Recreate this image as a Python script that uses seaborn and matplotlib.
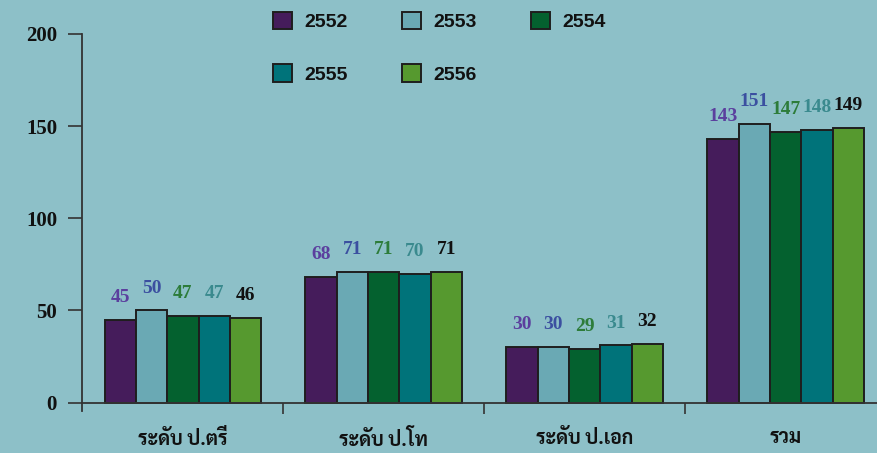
import pandas as pd
import matplotlib
matplotlib.use("Agg")
import matplotlib.pyplot as plt
import seaborn as sns

# data
levels = ["ระดับ ป.ตรี", "ระดับ ป.โท", "ระดับ ป.เอก", "รวม"]
years = ["2552", "2553", "2554", "2555", "2556"]
v2552 = [45, 68, 30, 143]
v2553 = [50, 71, 30, 151]
v2554 = [47, 71, 29, 147]
v2555 = [47, 70, 31, 148]
v2556 = [46, 71, 32, 149]

bar_colors = ["#451c5b", "#6aa9b4", "#04612f", "#00737a", "#56992f"]
label_colors = ["#5b3f9e", "#3b4fa0", "#2d7c3a", "#3a8a8e", "#111111"]
bg = "#8dc0c8"

rows = []
for yr, vals in zip(years, [v2552, v2553, v2554, v2555, v2556]):
    for lv, v in zip(levels, vals):
        rows.append({"level": lv, "year": yr, "count": v})
df = pd.DataFrame(rows)

sns.set_style("white")
plt.rcParams["font.family"] = ["Sarabun", "DejaVu Sans"]
plt.rcParams["font.weight"] = "bold"

fig = plt.figure(figsize=(8.78, 4.53), dpi=100, facecolor=bg)
ax = fig.add_axes([0.0934, 0.093, 0.9066, 0.832])
ax.set_facecolor(bg)

sns.barplot(data=df, x="level", y="count", hue="year", order=levels,
            hue_order=years, palette=bar_colors, saturation=1, width=0.78,
            edgecolor="#1e1e1e", linewidth=1.4, ax=ax)

for cont, c in zip(ax.containers, label_colors):
    ax.bar_label(cont, padding=10, color=c, fontsize=14, fontweight="bold",
                 family="Liberation Serif")

ax.set_xlim(-0.502, 3.46)
ax.set_ylim(-4.5, 200)
ax.set_yticks([0, 50, 100, 150, 200])
ax.set_yticklabels(["0", "50", "100", "150", "200"], family="Liberation Serif",
                   fontweight="bold", fontsize=15, color="#111111")

# group separators as major ticks, category names as minor ticks
ax.set_xticks([0.5, 1.5, 2.5])
ax.set_xticklabels([])
ax.set_xticks(range(len(levels)), minor=True)
ax.set_xticklabels(levels, minor=True)
ax.tick_params(axis="x", which="minor", bottom=False, length=0, pad=19,
               labelsize=14, labelcolor="#111111")
for t in ax.get_xticklabels(minor=True):
    t.set_family(["Sarabun", "DejaVu Sans"])
    t.set_fontweight("bold")
ax.tick_params(axis="x", which="major", bottom=True, length=8, width=1.2,
               color="#333333", direction="out")
ax.tick_params(axis="y", left=True, length=10, width=1.2, color="#333333",
               pad=8)
ax.set_xlabel("")
ax.set_ylabel("")

for s in ["top", "right"]:
    ax.spines[s].set_visible(False)
ax.spines["left"].set_bounds(-4.5, 200)
ax.spines["bottom"].set_position(("data", 0))
for s in ["left", "bottom"]:
    ax.spines[s].set_color("#333333")
    ax.spines[s].set_linewidth(1.3)

# legend: three per row, filled column-wise so reorder
handles, labels = ax.get_legend_handles_labels()
order = [0, 3, 1, 4, 2]
leg = ax.legend([handles[i] for i in order], [labels[i] for i in order], ncol=3,
                loc="upper left", bbox_to_anchor=(0.218, 1.105), frameon=False,
                prop={"family": "Liberation Sans", "weight": "bold", "size": 14},
                handlelength=1.0, handleheight=1.0, handletextpad=0.6,
                columnspacing=2.8, labelspacing=1.7)
for t in leg.get_texts():
    t.set_color("#111111")

fig.savefig("out.png", dpi=100, facecolor=bg)
